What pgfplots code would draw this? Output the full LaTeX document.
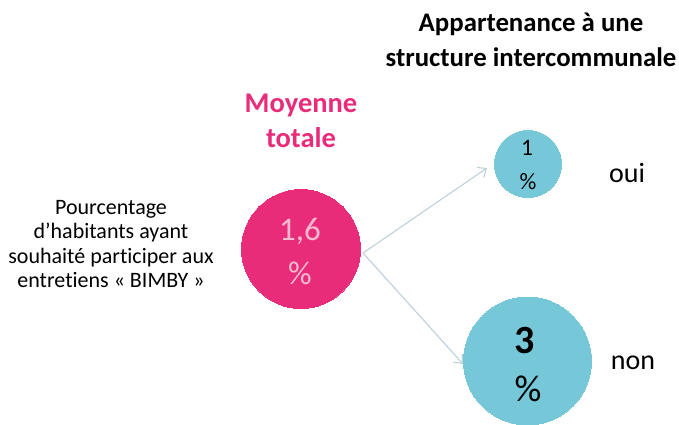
\documentclass[border=0pt]{standalone}
\usepackage{pgfplots}
\pgfplotsset{compat=1.18}
\usepackage{fontspec}
\setmainfont{Carlito}[RawFeature=-liga]
\usetikzlibrary{arrows.meta}
\definecolor{pinkc}{RGB}{233,44,122}
\definecolor{bluec}{RGB}{118,200,216}
\definecolor{arrowc}{RGB}{190,208,218}
\definecolor{pinktxt}{RGB}{246,186,208}
\begin{document}
\begin{tikzpicture}
\path[use as bounding box] (0,0) rectangle (679pt,425pt);
\begin{axis}[
  at={(0,0)}, anchor=south west,
  scale only axis, width=679pt, height=425pt,
  xmin=0, xmax=679, ymin=0, ymax=425, y dir=reverse,
  hide axis, clip=false]
% arrows
\addplot[arrowc, line width=1.1pt, -{Straight Barb[length=7pt,width=12pt]}] coordinates {(363,253) (487,168)};
\addplot[arrowc, line width=1.1pt, -{Straight Barb[length=7pt,width=12pt]}] coordinates {(363,253) (463,364)};
% bubbles
\addplot[only marks, mark=*, mark size=59.5pt, mark options={draw=pinkc, fill=pinkc, line width=0pt}] coordinates {(301,249)};
\addplot[only marks, mark=*, mark size=33.5pt, mark options={draw=bluec, fill=bluec, line width=0pt}] coordinates {(528,164)};
\addplot[only marks, mark=*, mark size=64pt, mark options={draw=bluec, fill=bluec, line width=0pt}] coordinates {(527.5,361)};
\coordinate (tA) at (axis cs:300,231);
\coordinate (tB) at (axis cs:300,273);
\coordinate (tC) at (axis cs:527,148);
\coordinate (tD) at (axis cs:528,182);
\coordinate (tE) at (axis cs:525,341);
\coordinate (tF) at (axis cs:528,389);
\coordinate (tT) at (axis cs:531,40);
\coordinate (tM) at (axis cs:301,121);
\coordinate (tL) at (axis cs:111,244);
\coordinate (tO) at (axis cs:627,173);
\coordinate (tN) at (axis cs:633,363);
\end{axis}
\node[font=\fontsize{26.8}{30}\selectfont\bfseries, align=center, inner sep=0pt] at (tT) {Appartenance à une\\[5pt]structure intercommunale};
\node[font=\fontsize{28.5}{30}\selectfont\bfseries, text=pinkc, align=center, inner sep=0pt] at (tM) {Moyenne\\[5pt]totale};
\node[font=\fontsize{22}{24.2}\selectfont, align=center, inner sep=0pt] at (tL) {Pourcentage\\d’habitants ayant\\souhaité participer aux\\entretiens « BIMBY »};
\node[font=\fontsize{33}{34}\selectfont, text=pinktxt, inner sep=0pt] at (tA) {1,6};
\node[font=\fontsize{33}{34}\selectfont, text=pinktxt, inner sep=0pt] at (tB) {\%};
\node[font=\fontsize{23.5}{24}\selectfont, inner sep=0pt] at (tC) {1};
\node[font=\fontsize{23.5}{24}\selectfont, inner sep=0pt] at (tD) {\%};
\node[font=\fontsize{40}{44}\selectfont\bfseries, inner sep=0pt] at (tE) {3};
\node[font=\fontsize{37.5}{40}\selectfont, inner sep=0pt] at (tF) {\%};
\node[font=\fontsize{28}{30}\selectfont, inner sep=0pt] at (tO) {oui};
\node[font=\fontsize{28}{30}\selectfont, inner sep=0pt] at (tN) {non};
\end{tikzpicture}
\end{document}
